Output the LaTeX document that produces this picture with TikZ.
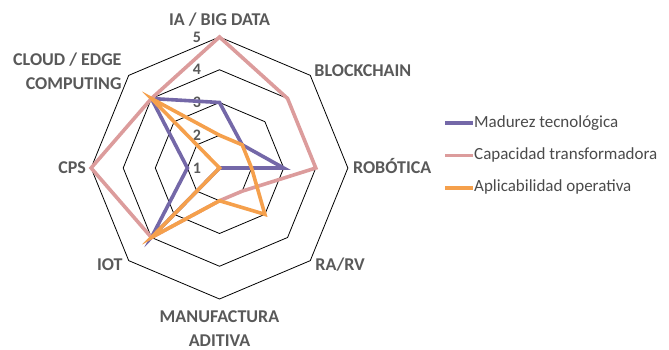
\documentclass[tikz,border=0pt]{standalone}
\usepackage{fontspec}
\setmainfont{Carlito}
\usetikzlibrary{positioning}

\definecolor{madurez}{HTML}{7468A8}
\definecolor{capacidad}{HTML}{DC9C9C}
\definecolor{aplicab}{HTML}{F5A04C}
\definecolor{gris}{HTML}{595959}
\definecolor{grisosc}{HTML}{4A4A4A}

\def\paso{32.75}

\begin{document}
\begin{tikzpicture}[x=1pt, y=1pt,
		etiqueta/.style = {font=\fontsize{18}{24}\selectfont\bfseries,
			text=gris, inner sep=1pt},
		numero/.style = {font=\fontsize{16}{18}\selectfont\bfseries,
			text=gris, inner sep=0pt},
		leyenda/.style = {font=\fontsize{17}{20}\selectfont, text=grisosc,
			inner sep=1pt, anchor=west, text height=12pt, text depth=4pt},
		anillo/.style = {draw=black, line width=0.8pt},
		serie/.style = {line width=3.6pt, line join=miter}]

	\useasboundingbox (0,0) rectangle (669,349);

	\begin{scope}[shift={(219.5,181)}, xscale=0.98]
		\coordinate (centro) at (0,0);

		% anillos 2..5
		\foreach \r in {1,...,4}
			\draw[anillo] (0:\r*\paso) \foreach \a in {45,90,...,315} {-- (\a:\r*\paso)} -- cycle;

		% extremos de los ejes
		\foreach \nom/\ang in {ia/90, bc/45, rob/0, rarv/-45, man/-90, iot/-135, cps/180, cloud/135}
			\coordinate (e-\nom) at (\ang:4*\paso);

		% escala
		\foreach \v in {1,...,5}
			\node[numero] (n\v) at (-23, {(\v-1)*\paso}) {\v};

		% series
		\draw[serie, madurez] (90:2*\paso) -- (45:1*\paso) -- (0:2*\paso) -- (centro)
			-- (-135:3*\paso) -- (180:1*\paso) -- (135:3*\paso) -- cycle;
		\draw[serie, capacidad] (90:4*\paso) -- (45:3*\paso) -- (0:3*\paso) -- (-45:1*\paso)
			-- (-90:1*\paso) -- (-135:3*\paso) -- (180:4*\paso) -- (135:3*\paso) -- cycle;
		\draw[serie, aplicab] (90:1*\paso) -- (45:1*\paso) -- (0:1*\paso) -- (-45:2*\paso)
			-- (-90:1*\paso) -- (-135:3*\paso) -- (centro) -- (135:3*\paso) -- cycle;
	\end{scope}

	% etiquetas de los ejes
	\node[etiqueta, above=9pt of e-ia] (l-ia) {IA / BIG DATA};
	\node[etiqueta, right=3pt of e-bc, yshift=4.5pt] (l-bc) {BLOCKCHAIN};
	\node[etiqueta, right=4pt of e-rob, yshift=2pt] (l-rob) {ROBÓTICA};
	\node[etiqueta, right=4pt of e-rarv, yshift=-4pt] (l-rarv) {RA/RV};
	\node[etiqueta, below=10pt of e-man, align=center] (l-man) {MANUFACTURA\\ADITIVA};
	\node[etiqueta, left=5pt of e-iot, yshift=-4.5pt] (l-iot) {IOT};
	\node[etiqueta, left=4pt of e-cps] (l-cps) {CPS};
	\node[etiqueta, left=6pt of e-cloud, yshift=4.5pt, align=right] (l-cloud) {CLOUD / EDGE\\COMPUTING};

	% leyenda
	\node[leyenda] (ley-mad) at (473,226) {Madurez tecnológica};
	\node[leyenda, below=14pt of ley-mad.south west, anchor=north west] (ley-cap) {Capacidad transformadora};
	\node[leyenda, below=14pt of ley-cap.south west, anchor=north west] (ley-apl) {Aplicabilidad operativa};
	\draw[serie, madurez] ([xshift=-28pt]ley-mad.west) -- (ley-mad.west);
	\draw[serie, capacidad] ([xshift=-28pt]ley-cap.west) -- (ley-cap.west);
	\draw[serie, aplicab] ([xshift=-28pt]ley-apl.west) -- (ley-apl.west);
\end{tikzpicture}
\end{document}
